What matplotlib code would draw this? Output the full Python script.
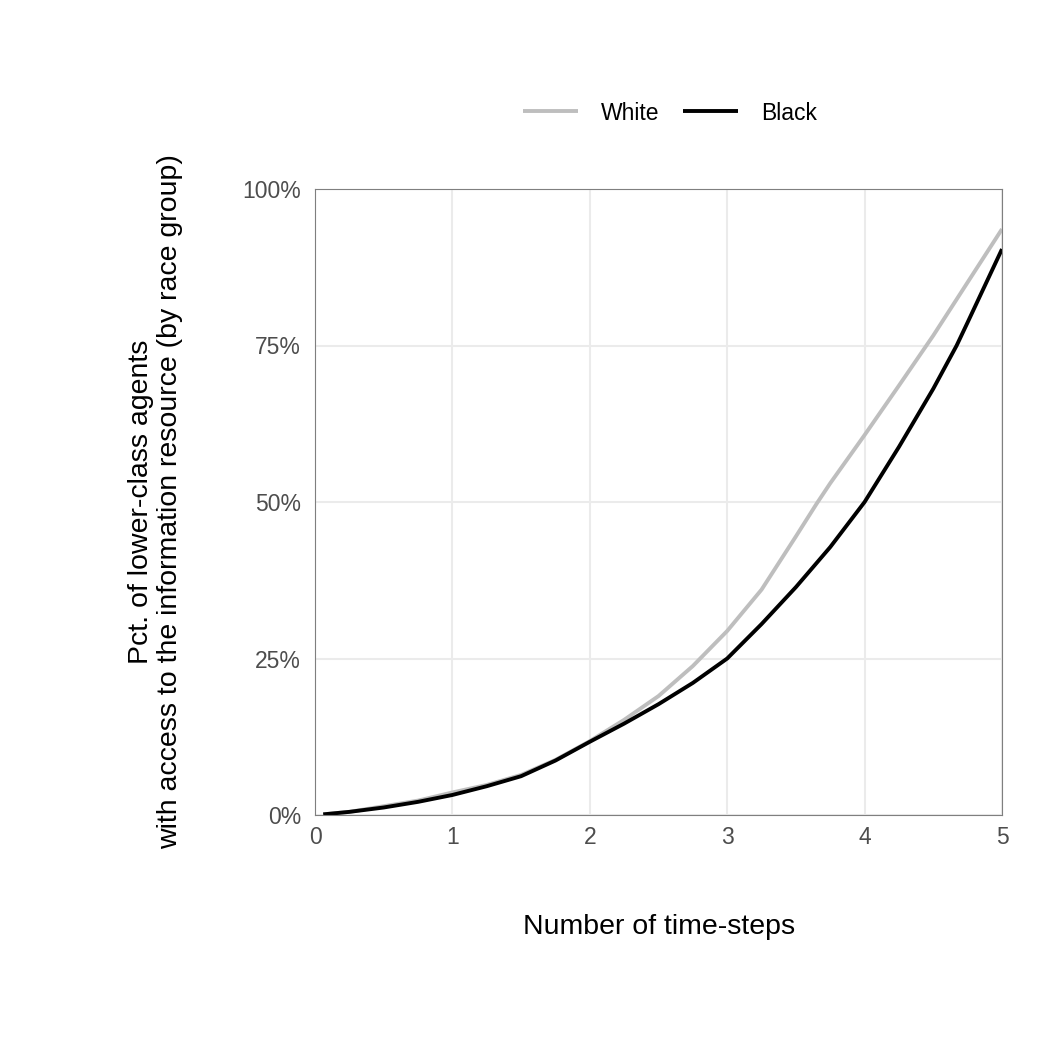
import numpy as np
import matplotlib
matplotlib.use("Agg")
import matplotlib.pyplot as plt
from matplotlib.ticker import FuncFormatter

plt.rcParams['font.family'] = ['Liberation Sans', 'DejaVu Sans']

# values (share of agents, 0..1)
steps_white = [0.06, 0.25, 0.5, 0.75, 1.0, 1.25, 1.5, 1.75, 2.0, 2.25, 2.5, 2.75,
               3.0, 3.25, 3.5, 3.65, 3.75, 4.0, 4.25, 4.5, 4.75, 5.0]
pct_white = [0.001, 0.005, 0.014, 0.023, 0.036, 0.048, 0.064, 0.088, 0.118, 0.152,
             0.190, 0.238, 0.294, 0.360, 0.445, 0.497, 0.530, 0.607, 0.686, 0.766,
             0.851, 0.936]

steps_black = [0.06, 0.25, 0.5, 0.75, 1.0, 1.25, 1.5, 1.75, 2.0, 2.25, 2.5, 2.75,
               3.0, 3.25, 3.5, 3.75, 4.0, 4.25, 4.5, 4.67, 4.75, 5.0]
pct_black = [0.001, 0.005, 0.012, 0.021, 0.032, 0.046, 0.062, 0.087, 0.117, 0.146,
             0.177, 0.211, 0.250, 0.305, 0.364, 0.428, 0.500, 0.588, 0.681, 0.750,
             0.787, 0.904]

fig = plt.figure(figsize=(10.62, 10.62), dpi=100, facecolor="white")
ax = fig.add_axes([315/1062, 1 - 815/1062, 687/1062, 626/1062])

ax.plot(steps_white, pct_white, color="#BEBEBE", lw=2.8, label="White",
        solid_capstyle="butt", solid_joinstyle="round")
ax.plot(steps_black, pct_black, color="black", lw=2.8, label="Black",
        solid_capstyle="butt", solid_joinstyle="round")

ax.set_xlim(0, 5)
ax.set_ylim(0, 1)
ax.set_xticks([0, 1, 2, 3, 4, 5])
ax.set_yticks([0, 0.25, 0.5, 0.75, 1.0])
ax.yaxis.set_major_formatter(FuncFormatter(lambda v, p: "%d%%" % round(v * 100)))
ax.grid(True, color="#EBEBEB", lw=1.5)
ax.set_axisbelow(True)
ax.tick_params(length=0, labelsize=16.5, labelcolor="#4D4D4D")
ax.tick_params(axis="y", pad=10)
ax.tick_params(axis="x", pad=8)
for s in ax.spines.values():
    s.set_color("#7F7F7F")
    s.set_linewidth(0.8)

fig.text(659/1062, 1 - 927/1062, "Number of time-steps",
         ha="center", va="center", fontsize=20.5)
fig.text(156/1062, 1 - 502/1062,
         "Pct. of lower-class agents\nwith access to the information resource (by race group)",
         rotation=90, ha="center", va="center", fontsize=20.5, linespacing=1.15)

fig.legend(loc="center", bbox_to_anchor=(670/1062, 1 - 113/1062), ncol=2, frameon=False,
           fontsize=16.5, handlelength=2.4, columnspacing=1.0, handletextpad=1.0)

fig.savefig("out.png", dpi=100)
